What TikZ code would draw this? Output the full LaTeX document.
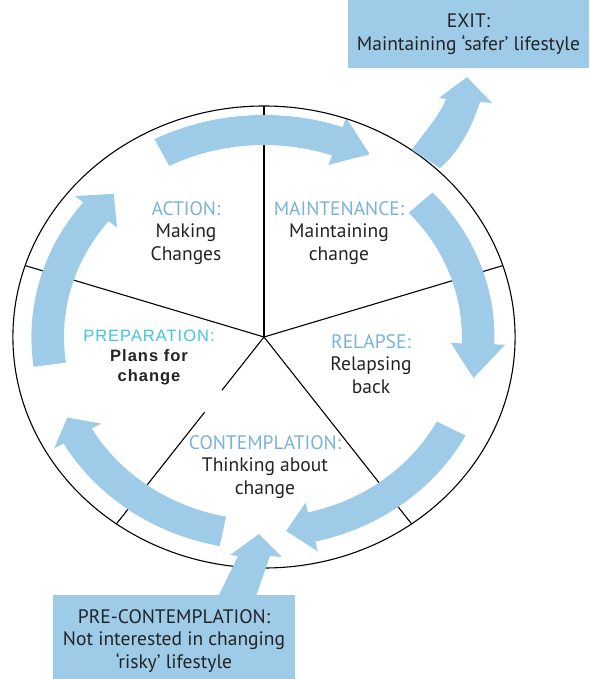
\documentclass[tikz,border=0pt]{standalone}
\usepackage{fontspec}
\setmainfont{PT Sans}
\newfontfamily\arialspaced[LetterSpace=6]{Liberation Sans}

\definecolor{cyclefill}{RGB}{158,204,232}
\definecolor{stagehead}{RGB}{122,178,218}
\definecolor{prephead}{RGB}{64,196,224}
\definecolor{stagetext}{RGB}{35,35,35}

\tikzset{
  stage/.style={align=center, text=stagetext, font=\fontsize{19.5}{22.5}\selectfont},
  outbox/.style={stage, fill=cyclefill, inner sep=0pt},
}

% clockwise band arrow round the wheel: tail angle, head base angle, tip angle, mid radius
\newcommand{\cyclearrow}[4]{%
  \fill[cyclefill] ({#1}:{#4+15}) arc[start angle=#1, end angle=#2, radius=#4+15]
    -- ({#2}:{#4+25}) -- ({#3}:{#4}) -- ({#2}:{#4-25}) -- ({#2}:{#4-15})
    arc[start angle=#2, end angle=#1, radius=#4-15] -- cycle;}

\begin{document}
\begin{tikzpicture}[x=1pt, y=1pt]
\useasboundingbox (-264,-342) rectangle (325,337);

\begin{scope}[xscale=1.087, line width=1.1pt]
  % spokes
  \foreach \a in {90,18,-54,162}
    \draw (0,0) -- (\a:231);
  \draw (0,0) -- (-126:66);
  \draw (-126:93) -- (-126:231);
  % the five stages
  \cyclearrow{117}{71}{62}{207}
  \cyclearrow{43}{-2}{-12}{197}
  \cyclearrow{-28}{-77}{-84}{195}
  \cyclearrow{259}{210}{204}{198}
  \cyclearrow{188}{141}{134}{199}
  \draw (0,0) circle (231);
\end{scope}

% way out and way in
\fill[cyclefill] (148,187) .. controls (160,205) and (175,220) .. (182,238)
  -- (175,239) -- (203,260) -- (228,234) -- (216,235)
  .. controls (208,210) and (195,185) .. (176,169) -- cycle;
\fill[cyclefill] (-47,-262) -- (-26,-219) -- (-34,-218) -- (-5,-197)
  -- (18,-220) -- (6,-219) -- (-9,-262) -- cycle;

\node[outbox, minimum width=241, minimum height=68] (exit) at (204.5,303)
  {EXIT:\\Maintaining `safer' lifestyle};
\node[outbox, minimum width=242, minimum height=92] (precon) at (-90,-304)
  {PRE-CONTEMPLATION:\\Not interested in changing\\`risky' lifestyle};

\node[stage] (action) at (-78,104) {\textcolor{stagehead}{ACTION:}\\Making\\Changes};
\node[stage] (maint) at (75,104) {\textcolor{stagehead}{MAINTENANCE:}\\Maintaining\\change};
\node[stage] (relapse) at (107,-27) {\textcolor{stagehead}{RELAPSE:}\\Relapsing\\back};
\node[stage] (contemp) at (1,-130) {\textcolor{stagehead}{CONTEMPLATION:}\\Thinking about\\change};
\node[stage, font=\arialspaced\fontsize{16.5}{20}\selectfont] (prep) at (-115,-20)
  {\textcolor{prephead}{PREPARATION:}\\\bfseries Plans for\\\bfseries change};
\end{tikzpicture}
\end{document}
